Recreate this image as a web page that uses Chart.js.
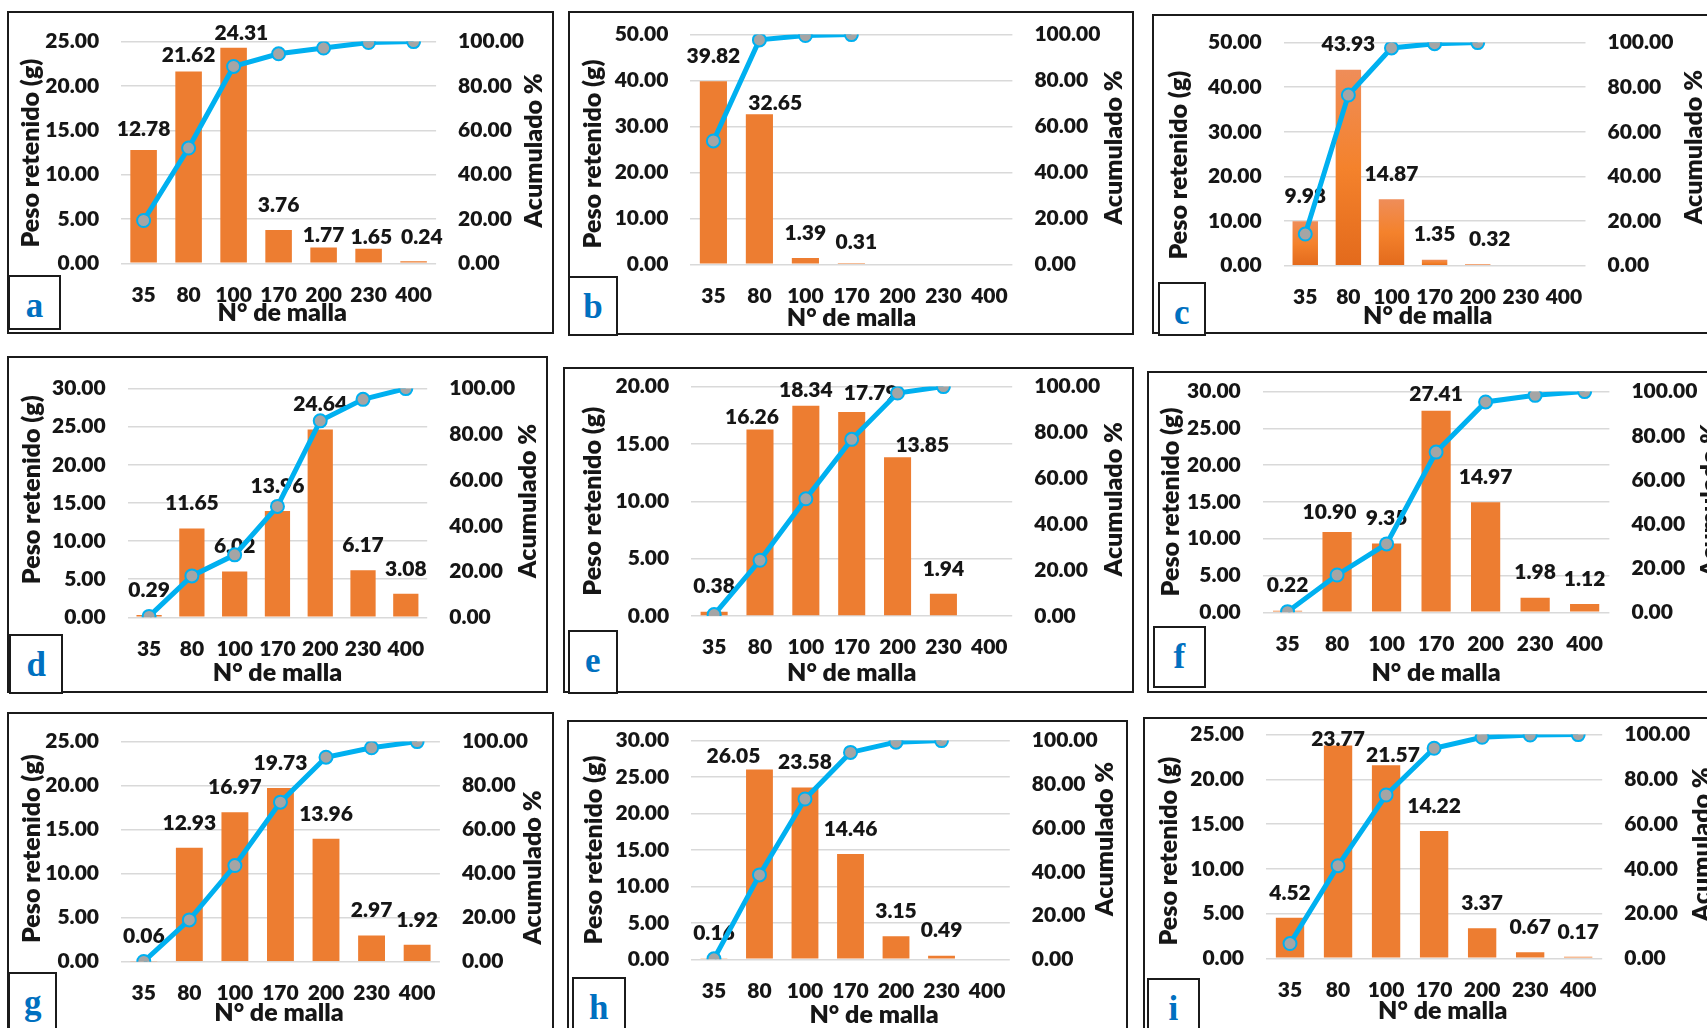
<!DOCTYPE html>
<html>
<head>
<meta charset="utf-8">
<script src="https://cdn.jsdelivr.net/npm/chart.js@4.4.1/dist/chart.umd.min.js"></script>
<style>
  html, body { margin: 0; padding: 0; background: #fff; }
  body { position: relative; width: 1707px; height: 1028px; overflow: hidden; }
  .frame { position: absolute; box-sizing: border-box; border: 2px solid #1b1b1b; background: #fff; z-index: 1; }
  .tag { position: absolute; box-sizing: border-box; border: 2px solid #1b1b1b; background: #fff; z-index: 3;
         font-family: "Liberation Serif", "Times New Roman", serif; font-weight: bold; font-size: 35px; color: #0070C0; }
  .tag span { position: absolute; left: 0; right: 0; text-align: center; line-height: 35px; top: 11px; }
  canvas.chart { position: absolute; z-index: 2; }
</style>
</head>
<body>
<script>
// Sieve numbers (x axis)
const mallas = ['35', '80', '100', '170', '200', '230', '400'];

// Retained weight per sieve, grams
const pesoA = [12.78, 21.62, 24.31, 3.76, 1.77, 1.65, 0.24];
const pesoB = [39.82, 32.65, 1.39, 0.31, null, null, null];
const pesoC = [9.98, 43.93, 14.87, 1.35, 0.32, null, null];
const pesoD = [0.29, 11.65, 6.02, 13.96, 24.64, 6.17, 3.08];
const pesoE = [0.38, 16.26, 18.34, 17.79, 13.85, 1.94, null];
const pesoF = [0.22, 10.90, 9.35, 27.41, 14.97, 1.98, 1.12];
const pesoG = [0.06, 12.93, 16.97, 19.73, 13.96, 2.97, 1.92];
const pesoH = [0.16, 26.05, 23.58, 14.46, 3.15, 0.49, null];
const pesoI = [4.52, 23.77, 21.57, 14.22, 3.37, 0.67, 0.17];

// Cumulative retained, %
const acumA = [19.3, 52.0, 88.8, 94.5, 97.1, 99.6, 100.0];
const acumB = [53.7, 97.7, 99.6, 100.0, null, null, null];
const acumC = [14.2, 76.5, 97.6, 99.5, 100.0, null, null];
const acumD = [0.4, 18.1, 27.3, 48.5, 85.9, 95.3, 100.0];
const acumE = [0.6, 24.3, 51.1, 77.0, 97.2, 100.0, null];
const acumF = [0.3, 16.9, 31.0, 72.6, 95.3, 98.3, 100.0];
const acumG = [0.1, 19.0, 43.7, 72.5, 92.9, 97.2, 100.0];
const acumH = [0.2, 38.6, 73.3, 94.6, 99.3, 100.0, null];
const acumI = [6.6, 41.4, 73.0, 93.9, 98.8, 99.8, 100.0];

// Left axis range per panel [max, step]
const ejeA = [25, 5], ejeB = [50, 10], ejeC = [50, 10];
const ejeD = [30, 5], ejeE = [20, 5], ejeF = [30, 5];
const ejeG = [25, 5], ejeH = [30, 5], ejeI = [25, 5];

// Page layout: plot box, frame box, letter tag box, title offsets and label nudges
const panels = [
  { letter: 'a', peso: pesoA, acum: acumA, eje: ejeA,
    plot: [121.1, 38.7, 436.1, 263.3], frame: [8, 12, 553, 333], tag: [9, 276, 60, 329],
    tL: [-90.2, 0.7], tR: [97.5, -2], tB: [3.7, 49.7],
    nudge: { 0: [0, -20.8], 1: [0, -16.8], 2: [7.8, -14.2], 4: [0, -12.4], 5: [2.7, -11.2], 6: [8.3, -24.4] } },
  { letter: 'b', peso: pesoB, acum: acumB, eje: ejeB,
    plot: [690.4, 31.7, 1012.4, 264.3], frame: [568.7, 12, 1133.4, 334], tag: [568.7, 276.7, 617.4, 335],
    tL: [-97.9, 4.5], tR: [101.6, -2], tB: [0, 53.7],
    nudge: { 1: [15.8, -10.7], 3: [5, -20.6] } },
  { letter: 'c', peso: pesoC, acum: acumC, eje: ejeC, gradient: true,
    plot: [1283.7, 40, 1585.5, 265.7], frame: [1152.9, 15, 1730, 333.3], tag: [1158.6, 283, 1205.2, 335],
    tL: [-104.7, 11], tR: [108.3, -7], tB: [-6.8, 50.3],
    nudge: { 4: [12, -25.3] } },
  { letter: 'd', peso: pesoD, acum: acumD, eje: ejeD,
    plot: [127.7, 385.7, 427.2, 617.3], frame: [8, 356.7, 547.1, 691.7], tag: [10.2, 635, 62.5, 693],
    tL: [-95.3, -13.2], tR: [101.1, -2], tB: [0, 55.4],
    nudge: {} },
  { letter: 'e', peso: pesoE, acum: acumE, eje: ejeE,
    plot: [691.2, 384, 1012.2, 616], frame: [564.4, 368.3, 1132.6, 691.7], tag: [569.2, 631, 616.6, 693],
    tL: [-98, 0], tR: [101.4, -2], tB: [0, 56.7],
    nudge: { 1: [-8, -12.4], 2: [0, -15.6], 3: [19, -18.9], 4: [24.7, -12] } },
  { letter: 'f', peso: pesoF, acum: acumF, eje: ejeF,
    plot: [1262.8, 388.7, 1609.4, 612.3], frame: [1148, 372, 1730, 691.7], tag: [1153.7, 627, 1205.1, 687],
    tL: [-91.5, 0], tR: [101, -2], tB: [0, 61],
    nudge: { 1: [-7.6, -20.1], 3: [0, -16.3] } },
  { letter: 'g', peso: pesoG, acum: acumG, eje: ejeG,
    plot: [121, 739.3, 439.9, 961.7], frame: [8, 713.3, 553.3, 1045], tag: [9, 972.7, 56.3, 1045],
    tL: [-88.6, -3], tR: [93.4, 16], tB: [-1.5, 51.6],
    nudge: {} },
  { letter: 'h', peso: pesoH, acum: acumH, eje: ejeH,
    plot: [691.2, 737.7, 1009.8, 959.3], frame: [568.1, 721, 1126.7, 1045], tag: [573, 977.7, 624.7, 1045],
    tL: [-97.6, 0], tR: [94.7, -11], tB: [23.6, 55.7],
    nudge: { 1: [-26, -13.6] } },
  { letter: 'i', peso: pesoI, acum: acumI, eje: ejeI,
    plot: [1266, 732.3, 1602.2, 958.3], frame: [1144.3, 717.7, 1730, 1045], tag: [1148, 979, 1198.6, 1045],
    tL: [-96.9, 4.7], tR: [100, -2], tB: [8.7, 52.7],
    nudge: { 1: [0, -6.1], 2: [6.9, -10] } }
];

const FONT = 'Lato, "Liberation Sans", Arial, sans-serif';
const INK = '#161616';
const ORANGE = '#ED7D31';
const BLUE = '#00B0F0';
const MARKER = '#A5A5A5';
const GRID = '#D9D9D9';
const TICK_FONT = { family: FONT, size: 21, weight: '800' };
const TITLE_FONT = '800 25px ' + FONT;
const LABEL_FONT = '800 21px ' + FONT;
const DEFAULT_NUDGE = [0, -25];

Chart.defaults.font.family = FONT;

// Bar value labels (between bars and line) and the three axis titles
const panelText = {
  id: 'panelText',
  afterDatasetDraw(chart, args, opts) {
    if (args.index !== 0) return;
    const p = opts.panel;
    const ctx = chart.ctx;
    const values = chart.data.datasets[0].data;
    ctx.save();
    ctx.font = LABEL_FONT;
    ctx.fillStyle = INK;
    ctx.textAlign = 'center';
    ctx.textBaseline = 'middle';
    args.meta.data.forEach((bar, i) => {
      const v = values[i];
      if (v == null) return;
      const n = p.nudge[i] || DEFAULT_NUDGE;
      ctx.fillText(v.toFixed(2), bar.x + n[0], bar.y + n[1]);
    });
    ctx.restore();
  },
  afterDraw(chart, args, opts) {
    const p = opts.panel;
    const { ctx, chartArea: a } = chart;
    const midY = (a.top + a.bottom) / 2;
    const midX = (a.left + a.right) / 2;
    ctx.save();
    ctx.font = TITLE_FONT;
    ctx.fillStyle = INK;
    ctx.textAlign = 'center';
    ctx.textBaseline = 'middle';
    const vertical = (text, x, y) => {
      ctx.save();
      ctx.translate(x, y);
      ctx.rotate(-Math.PI / 2);
      ctx.fillText(text, 0, 0);
      ctx.restore();
    };
    vertical('Peso retenido (g)', a.left + p.tL[0], midY + p.tL[1]);
    vertical('Acumulado %', a.right + p.tR[0], midY + p.tR[1]);
    ctx.fillText('N\u00B0 de malla', midX + p.tB[0], a.bottom + p.tB[1]);
    ctx.restore();
  }
};

function barFill(p) {
  if (!p.gradient) return ORANGE;
  return (c) => {
    const chart = c.chart;
    if (!chart.chartArea || c.parsed == null || c.parsed.y == null) return ORANGE;
    const ys = chart.scales.y;
    const top = ys.getPixelForValue(c.parsed.y);
    const base = ys.getPixelForValue(0);
    if (!isFinite(top) || !isFinite(base) || base - top < 1) return ORANGE;
    const g = chart.ctx.createLinearGradient(0, top, 0, base);
    g.addColorStop(0, '#EF8D59');
    g.addColorStop(0.5, '#F4822C');
    g.addColorStop(1, '#E36A1C');
    return g;
  };
}

function box(cls, r) {
  const d = document.createElement('div');
  d.className = cls;
  d.style.left = (r[0] - 1) + 'px';
  d.style.top = (r[1] - 1) + 'px';
  d.style.width = (r[2] - r[0] + 2) + 'px';
  d.style.height = (r[3] - r[1] + 2) + 'px';
  document.body.appendChild(d);
  return d;
}

panels.forEach((p) => {
  box('frame', p.frame);
  const tag = box('tag', p.tag);
  const s = document.createElement('span');
  s.textContent = p.letter;
  tag.appendChild(s);

  const [pl, pt, pr, pb] = p.plot;
  const cL = Math.round(pl - 125), cT = Math.round(pt - 32);
  const cR = Math.round(pr + 125), cB = Math.round(pb + 75);
  const cv = document.createElement('canvas');
  cv.className = 'chart';
  cv.width = cR - cL;
  cv.height = cB - cT;
  cv.style.left = cL + 'px';
  cv.style.top = cT + 'px';
  cv.style.width = (cR - cL) + 'px';
  cv.style.height = (cB - cT) + 'px';
  document.body.appendChild(cv);

  const fmt = (v) => Number(v).toFixed(2);

  new Chart(cv, {
    data: {
      labels: mallas,
      datasets: [
        { type: 'bar', data: p.peso, yAxisID: 'y', order: 2,
          backgroundColor: barFill(p), borderWidth: 0,
          barPercentage: 0.59, categoryPercentage: 1 },
        { type: 'line', data: p.acum, yAxisID: 'y1', order: 1,
          borderColor: BLUE, borderWidth: 5, tension: 0, spanGaps: false,
          pointRadius: 6.5, pointBackgroundColor: MARKER, pointBorderColor: BLUE, pointBorderWidth: 2 }
      ]
    },
    options: {
      responsive: false,
      animation: false,
      devicePixelRatio: 1,
      layout: { padding: { top: pt - cT, left: 0, right: 0, bottom: 0 } },
      plugins: { legend: { display: false }, tooltip: { enabled: false }, panelText: { panel: p } },
      scales: {
        x: {
          type: 'category', offset: true,
          grid: { display: false, drawTicks: false }, border: { display: false },
          ticks: { font: TICK_FONT, color: INK, padding: 19, maxRotation: 0, autoSkip: false },
          afterFit: (sc) => { sc.height = cB - pb; }
        },
        y: {
          position: 'left', min: 0, max: p.eje[0],
          grid: { color: GRID, lineWidth: 1.5, drawTicks: false }, border: { display: false },
          ticks: { stepSize: p.eje[1], callback: fmt, font: TICK_FONT, color: INK, padding: 22 },
          afterFit: (sc) => { sc.width = pl - cL; }
        },
        y1: {
          position: 'right', min: 0, max: 100,
          grid: { display: false, drawTicks: false }, border: { display: false },
          ticks: { stepSize: 20, callback: fmt, font: TICK_FONT, color: INK, padding: 22 },
          afterFit: (sc) => { sc.width = cR - pr; }
        }
      }
    },
    plugins: [panelText]
  });
});
</script>
</body>
</html>
